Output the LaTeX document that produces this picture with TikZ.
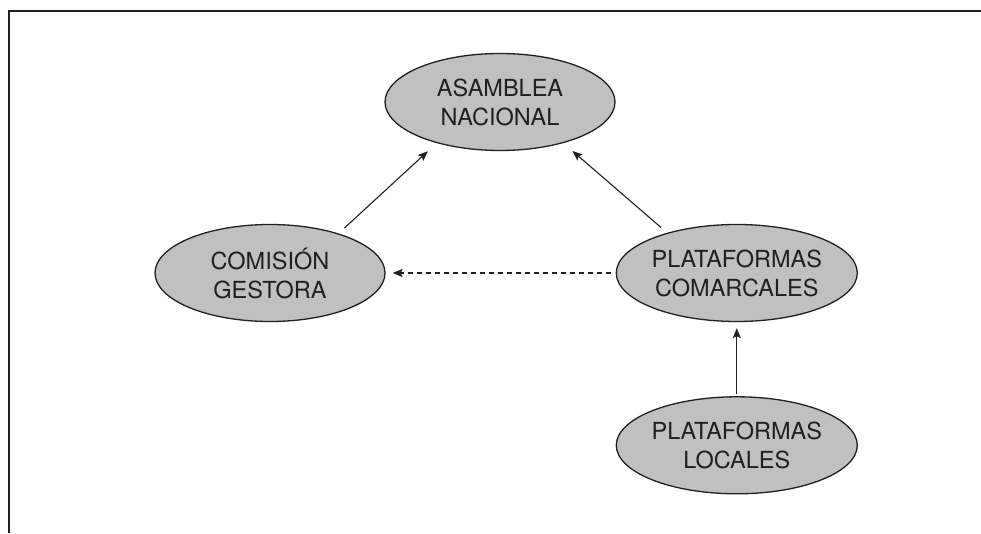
\documentclass[tikz,border=0pt]{standalone}
\usepackage{fontspec}
\setmainfont{TeX Gyre Heros}
\usetikzlibrary{arrows.meta,positioning,shapes.geometric}
\definecolor{orgfill}{RGB}{192,192,192}
\definecolor{ink}{RGB}{35,31,32}

\begin{document}
\begin{tikzpicture}[
  x=1pt, y=1pt,
  org/.style={ellipse, draw=ink, line width=1.3pt, fill=orgfill,
              minimum width=230pt, minimum height=97pt, inner sep=0pt,
              align=center, text=ink, font=\fontsize{23.5}{29}\selectfont},
  arr/.style={-{Stealth[length=10pt, width=8pt, inset=2pt]}, draw=ink, line width=1.1pt},
  frame/.style={draw=ink, line width=2pt},
]
  \useasboundingbox (0,0) rectangle (981,533);
  \draw[frame] (9,0) -- (9,522) -- (981,522);

  \node[org] (an) at (500,431) {ASAMBLEA\\NACIONAL};
  \node[org] (cg) at (270,260) {COMISIÓN\\GESTORA};
  \node[org, right=230pt of cg] (pc) {PLATAFORMAS\\COMARCALES};
  \node[org, below=74pt of pc] (pl) {PLATAFORMAS\\LOCALES};

  \draw[arr, shorten <=8pt, shorten >=12pt] (cg.30) -- (an.213);
  \draw[arr, shorten <=8pt, shorten >=12pt] (pc.150) -- (an.327);
  \draw[arr, dash pattern=on 5pt off 4pt, shorten <=5pt, shorten >=7pt] (pc.west) -- (cg.east);
  \draw[arr, shorten <=2pt, shorten >=6pt] (pl.north) -- (pc.south);
\end{tikzpicture}
\end{document}
